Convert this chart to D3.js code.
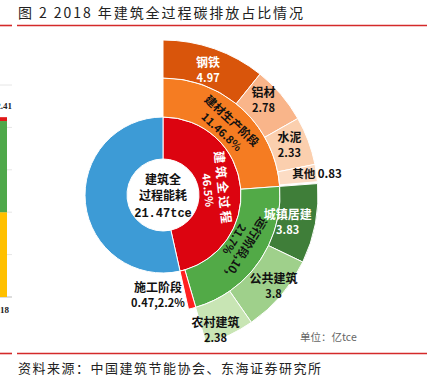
<!DOCTYPE html>
<html>
<head>
<meta charset="utf-8">
<script src="https://cdn.jsdelivr.net/npm/d3@7"></script>
<style>
  html, body { margin: 0; padding: 0; background: #fff; }
  svg { display: block; }
</style>
</head>
<body>
<svg id="chart" width="445" height="379"></svg>
<script>
// inner ring: share of national energy use
const innerNames = ['建筑全过程', '其他'];
const innerShares = [46.5, 53.5];
// middle ring: stages (亿tce)
const stageNames = ['建材生产阶段', '运行阶段', '施工阶段'];
const stageValues = [11, 10, 0.47];
const stageTags = ['11.46.8%', '21.7%', '0.47,2.2%'];
// outer ring: breakdown (亿tce)
const itemNames = ['钢铁', '铝材', '水泥', '其他', '城镇居建', '公共建筑', '农村建筑'];
const itemValues = [4.97, 2.78, 2.33, 0.83, 3.83, 3.8, 2.38];
const itemParent = [0, 0, 0, 0, 1, 1, 1];
const centerLines = ['建筑全', '过程能耗', '21.47tce'];
// cropped neighbour chart at the left edge
const leftBarValues = [20, 21.5, 0.91];
const leftBarTicks = [0, 10, 20, 30, 40, 50];

const CJK = '"Noto Sans CJK SC", "Noto Sans", sans-serif';
const svg = d3.select('#chart');
const cx = 163, cy = 195;
const r0 = 36, r1 = 78, r2 = 117, r3 = 155;

// title + rules
svg.append('text').attr('x', 18).attr('y', 18).attr('font-family', CJK).attr('font-size', 14)
  .attr('fill', '#222').attr('textLength', 285).attr('lengthAdjust', 'spacing')
  .text('图 2 2018 年建筑全过程碳排放占比情况');
[25.5, 353.5].forEach(y => {
  svg.append('line').attr('x1', 0).attr('x2', 12).attr('y1', y).attr('y2', y).attr('stroke', '#d42a2a').attr('stroke-width', 1.6);
  svg.append('line').attr('x1', 17).attr('x2', 427).attr('y1', y).attr('y2', y).attr('stroke', '#d42a2a').attr('stroke-width', 1.6);
});
svg.append('text').attr('x', 18).attr('y', 373).attr('font-family', CJK).attr('font-size', 13)
  .attr('fill', '#222').attr('textLength', 303).attr('lengthAdjust', 'spacing')
  .text('资料来源：中国建筑节能协会、东海证券研究所');

// left cropped bar
const ly = d3.scaleLinear().domain([0, 50]).range([297, 85]);
const left = svg.append('g');
left.selectAll('line.tk').data(leftBarTicks).enter().append('line')
  .attr('x1', 0).attr('x2', 12).attr('y1', d => ly(d)).attr('y2', d => ly(d))
  .attr('stroke', d => d === 0 ? '#bbb' : '#e6e6e6');
const lcum = d3.cumsum(leftBarValues);
const leftColors = ['#ffc000', '#4ea84a', '#e01818'];
left.selectAll('rect').data(leftBarValues).enter().append('rect')
  .attr('x', 0).attr('width', 7)
  .attr('y', (d, i) => ly(lcum[i])).attr('height', (d, i) => ly(lcum[i] - d) - ly(lcum[i]))
  .attr('fill', (d, i) => leftColors[i]);
left.append('text').attr('x', 12).attr('y', ly(lcum[2]) - 8).attr('text-anchor', 'end')
  .attr('font-family', '"Liberation Serif", serif').attr('font-weight', 'bold').attr('font-size', 9).attr('fill', '#222')
  .text(d3.format('.2f')(lcum[2]));
left.append('text').attr('x', 9).attr('y', 313).attr('text-anchor', 'end')
  .attr('font-family', '"Liberation Serif", serif').attr('font-weight', 'bold').attr('font-size', 9).attr('fill', '#222')
  .text('2018');

// sunburst
const g = svg.append('g').attr('transform', `translate(${cx},${cy})`);
const arc = d3.arc();
const innerArcs = d3.pie().sort(null)(innerShares);
const buildEnd = innerArcs[0].endAngle;
const angle = d3.scaleLinear().domain([0, d3.sum(stageValues)]).range([0, buildEnd]);

const stageEnd = d3.cumsum(stageValues);
const stages = stageValues.map((v, i) => ({ name: stageNames[i], tag: stageTags[i], startAngle: angle(stageEnd[i] - v), endAngle: angle(stageEnd[i]) }));
const offs = {};
const items = itemValues.map((v, i) => {
  const p = itemParent[i];
  const s = (offs[p] || 0);
  offs[p] = s + v;
  return { name: itemNames[i], value: v, startAngle: angle(stageEnd[p] - stageValues[p] + s), endAngle: angle(stageEnd[p] - stageValues[p] + s + v) };
});

const innerColors = ['#dc0410', '#3d9bd6'];
const stageColors = ['#f57c22', '#52aa47', '#ff2020'];
const itemColors = ['#d9550b', '#f9b58a', '#fbcfae', '#fcdcc4', '#3f7e39', '#9fd08b', '#c8e5b4'];

g.selectAll('path.inner').data(innerArcs).enter().append('path')
  .attr('d', d => arc({ innerRadius: r0, outerRadius: r1, startAngle: d.startAngle, endAngle: d.endAngle }))
  .attr('fill', (d, i) => innerColors[i]).attr('stroke', '#fff').attr('stroke-width', 1);
g.selectAll('path.stage').data(stages).enter().append('path')
  .attr('d', d => arc({ innerRadius: r1, outerRadius: r2, startAngle: d.startAngle, endAngle: d.endAngle }))
  .attr('fill', (d, i) => stageColors[i]).attr('stroke', '#fff').attr('stroke-width', 1);
g.selectAll('path.item').data(items).enter().append('path')
  .attr('d', d => arc({ innerRadius: r2, outerRadius: r3, startAngle: d.startAngle, endAngle: d.endAngle }))
  .attr('fill', (d, i) => itemColors[i]).attr('stroke', '#fff').attr('stroke-width', 1);

// center text
const ct = g.append('text').attr('text-anchor', 'middle').attr('font-weight', 'bold').attr('fill', '#111');
ct.append('tspan').attr('x', 0).attr('y', -11).attr('font-family', CJK).attr('font-size', 12).text(centerLines[0]);
ct.append('tspan').attr('x', 0).attr('y', 5).attr('font-family', CJK).attr('font-size', 12).text(centerLines[1]);
ct.append('tspan').attr('x', 0).attr('y', 22).attr('font-family', '"Liberation Mono", monospace').attr('font-size', 12).text(centerLines[2]);

// rotated ring labels
function ringLabel(mid, rOut, rIn, line1, line2, color, size1, size2) {
  const deg = mid * 180 / Math.PI;
  const lg = g.append('g').attr('transform', `rotate(${deg})`)
    .attr('font-family', CJK).attr('font-weight', 'bold').attr('fill', color).attr('text-anchor', 'middle');
  lg.append('text').attr('y', -rOut).attr('dy', '0.35em').attr('font-size', size1).text(line1);
  lg.append('text').attr('y', -rIn).attr('dy', '0.35em').attr('font-size', size2).text(line2);
  return lg;
}
const redMid = (innerArcs[0].startAngle + innerArcs[0].endAngle) / 2;
ringLabel(redMid, 60, 45, innerNames[0], innerShares[0] + '%', '#fff', 12.5, 11)
  .select('text').attr('letter-spacing', 2.5);
ringLabel((stages[0].startAngle + stages[0].endAngle) / 2, 101, 86, stages[0].name, stages[0].tag, '#111', 11.5, 11);
ringLabel((stages[1].startAngle + stages[1].endAngle) / 2 - 0.05, 98, 84, stages[1].name + ',' + stageValues[1] + ',', stages[1].tag, '#111', 11.5, 11);

// 施工阶段 label
const sl = g.append('text').attr('text-anchor', 'middle').attr('font-family', CJK).attr('font-weight', 'bold').attr('fill', '#111');
sl.append('tspan').attr('x', -5).attr('y', 97).attr('font-size', 12).text(stages[2].name);
sl.append('tspan').attr('x', -5).attr('y', 112).attr('font-size', 11).text(stages[2].tag);

// outer labels
const itemText = ['#fff', '#111', '#111', '#111', '#fff', '#111', '#111'];
const itemNudge = [[0, 3], [-3, -7], [-1, -2], [0, 0], [-9, 2], [7, 3], [-6, 12]];
items.forEach((d, i) => {
  const c = arc.centroid({ innerRadius: r2, outerRadius: r3, startAngle: d.startAngle, endAngle: d.endAngle });
  const t = g.append('text').attr('text-anchor', 'middle').attr('font-family', CJK).attr('font-weight', 'bold')
    .attr('fill', itemText[i]);
  if (d.name === '其他') {
    t.attr('x', 154).attr('y', -17).attr('font-size', 11.5).text(d.name + ' ' + d.value);
    return;
  }
  const x = c[0] + itemNudge[i][0], y = c[1] + itemNudge[i][1];
  t.append('tspan').attr('x', x).attr('y', y - 3).attr('font-size', 12).text(d.name);
  t.append('tspan').attr('x', x).attr('y', y + 12).attr('font-size', 11).text(d.value);
});

svg.append('text').attr('x', 300).attr('y', 341).attr('font-family', CJK).attr('font-size', 10.5)
  .attr('fill', '#666').text('单位：亿tce');
</script>
</body>
</html>
